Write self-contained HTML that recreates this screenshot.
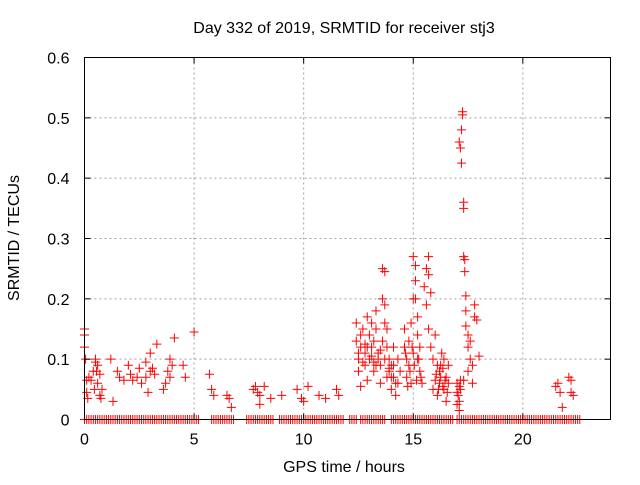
<!DOCTYPE html>
<html><head><meta charset="utf-8"><style>
body{margin:0;background:#fff;}
svg text{font-family:"Liberation Sans",sans-serif;font-size:16px;fill:#000;}
</style></head><body>
<svg width="640" height="480" xmlns="http://www.w3.org/2000/svg">
<rect width="640" height="480" fill="#fff"/>
<g id="grid"></g>
<g id="marks"></g>
<rect x="84.5" y="57.5" width="526" height="362" fill="none" stroke="#000" stroke-width="1"/>
<g id="ticks"></g>
<text x="344" y="33" text-anchor="middle">Day 332 of 2019, SRMTID for receiver stj3</text>
<text x="344" y="472" text-anchor="middle">GPS time / hours</text>
<text transform="translate(19,238) rotate(-90)" text-anchor="middle">SRMTID / TECUs</text>
</svg>
<script>
const xTicks=[0,5,10,15,20];
const yTicks=[0,0.1,0.2,0.3,0.4,0.5,0.6];
const yTickLabels=["0","0.1","0.2","0.3","0.4","0.5","0.6"];
const times=[0,0,0,0.05,0.1,0.1,0.15,0.2,0.3,0.4,0.45,0.5,0.5,0.55,0.6,0.6,0.7,0.7,0.75,0.8,
1.2,1.3,1.5,1.6,1.8,2.0,2.1,2.2,2.4,2.5,2.6,2.8,2.8,2.9,3.0,3.0,3.1,3.2,3.3,
3.6,3.7,3.8,3.9,3.9,4.0,4.1,4.5,4.6,5.0,
5.7,5.8,5.9,6.5,6.6,6.7,
7.7,7.8,7.9,8.0,8.0,8.2,8.5,9.0,9.7,9.9,10.0,10.2,10.7,11.0,11.5,11.6,
12.4,12.4,12.5,12.5,12.6,12.6,12.7,12.8,12.8,12.9,12.9,13.0,13.0,13.1,13.1,13.2,13.2,13.3,13.3,13.4,13.5,13.5,13.6,13.6,13.6,13.7,13.7,13.7,13.8,13.8,13.9,13.9,14.0,14.0,14.1,14.1,14.2,14.2,14.3,14.4,
12.5,12.7,12.9,13.1,13.3,13.5,13.7,13.9,14.1,14.3,13.2,13.4,13.8,14.0,12.6,12.8,
14.6,14.6,14.7,14.7,14.8,14.8,14.9,14.9,15.0,15.0,15.0,15.1,15.1,15.1,15.2,15.2,15.2,15.3,15.3,15.4,
14.65,14.85,15.05,15.25,14.75,15.15,15.35,14.95,
15.5,15.6,15.6,15.7,15.7,15.7,15.8,15.8,15.9,15.9,16.0,16.0,16.1,16.1,16.2,16.2,16.3,16.4,16.4,16.5,16.5,16.6,16.6,
16.05,16.15,16.25,16.35,16.45,16.55,16.25,16.35,
17.0,17.0,17.1,17.1,17.15,17.1,17.15,17.2,17.2,17.25,17.25,17.3,17.3,17.3,17.35,17.35,17.4,17.4,17.4,17.5,17.5,17.6,17.6,17.7,17.7,17.8,17.8,17.9,18.0,17.5,17.3,
17.05,17.15,17.0,17.1,
21.5,21.6,21.7,21.8,22.1,22.2,22.2,22.3];
const values=[0.15,0.14,0.12,0.1,0.065,0.045,0.035,0.07,0.065,0.08,0.05,0.1,0.095,0.08,0.09,0.06,0.075,0.04,0.035,0.05,
0.1,0.03,0.08,0.07,0.065,0.09,0.075,0.065,0.07,0.085,0.06,0.095,0.07,0.045,0.08,0.11,0.085,0.075,0.125,
0.05,0.06,0.08,0.1,0.07,0.09,0.135,0.09,0.07,0.145,
0.075,0.05,0.04,0.04,0.035,0.02,
0.05,0.055,0.045,0.04,0.025,0.055,0.035,0.04,0.05,0.035,0.03,0.055,0.04,0.035,0.05,0.04,
0.16,0.13,0.1,0.08,0.12,0.055,0.15,0.11,0.09,0.065,0.17,0.14,0.1,0.12,0.16,0.13,0.08,0.18,0.15,0.11,0.09,0.06,0.2,0.25,0.13,0.245,0.19,0.16,0.15,0.12,0.1,0.08,0.07,0.05,0.12,0.09,0.06,0.04,0.1,0.08,
0.11,0.095,0.12,0.105,0.09,0.115,0.1,0.085,0.07,0.06,0.095,0.1,0.07,0.09,0.14,0.125,
0.15,0.12,0.1,0.07,0.13,0.09,0.06,0.16,0.2,0.27,0.11,0.255,0.23,0.2,0.17,0.14,0.1,0.12,0.08,0.06,
0.11,0.08,0.09,0.1,0.055,0.065,0.07,0.12,
0.22,0.25,0.19,0.27,0.24,0.15,0.21,0.12,0.1,0.05,0.065,0.14,0.09,0.04,0.08,0.06,0.11,0.1,0.05,0.07,0.03,0.09,0.06,
0.075,0.05,0.07,0.085,0.065,0.045,0.09,0.055,
0.06,0.045,0.03,0.015,0.05,0.46,0.45,0.425,0.48,0.505,0.51,0.36,0.35,0.27,0.265,0.245,0.18,0.155,0.205,0.14,0.12,0.13,0.1,0.09,0.06,0.17,0.19,0.165,0.105,0.08,0.065,
0.04,0.065,0.025,0.055,
0.055,0.06,0.045,0.02,0.07,0.065,0.045,0.04];
const zeroTimes=[0,0.1,0.2,0.3,0.4,0.5,0.6,0.7,0.8,0.9,1.0,1.1,1.2,1.3,1.4,1.5,1.6,1.7,1.8,1.9,2.0,2.1,2.2,2.3,2.4,2.5,2.6,2.7,2.8,2.9,3.0,3.1,3.2,3.3,3.4,3.5,3.6,3.7,3.8,3.9,4.0,4.1,4.2,4.3,4.4,4.5,4.6,4.7,4.8,4.9,5.0,5.1,5.2,
5.8,5.9,6.0,6.1,6.2,6.3,6.4,6.5,6.6,6.7,6.8,7.4,7.5,7.6,7.7,7.8,7.9,8.0,8.1,8.2,8.3,8.4,8.5,8.6,8.9,9.0,9.1,9.2,9.3,9.4,9.5,9.6,9.7,9.8,9.9,10.0,10.1,10.2,10.3,10.4,10.5,10.6,10.7,10.8,10.9,11.0,11.1,11.2,11.3,11.4,11.5,11.6,11.7,11.8,
12.1,12.2,12.3,12.4,12.6,12.7,12.8,12.9,13.0,13.1,13.2,13.3,13.4,13.5,13.6,13.7,14.0,14.1,14.2,14.3,14.4,14.5,14.6,14.7,14.8,14.9,15.0,15.1,15.2,15.3,15.4,15.5,15.6,15.7,15.8,15.9,16.0,16.1,16.2,16.3,16.4,16.5,16.6,16.7,16.8,
17.0,17.1,17.2,17.3,17.4,17.5,17.6,17.7,17.8,17.9,18.0,18.1,18.2,18.3,18.4,18.5,18.6,18.7,18.8,18.9,19.0,19.1,19.2,19.3,19.4,19.5,19.6,19.7,19.8,19.9,20.0,20.1,20.2,20.3,20.4,20.5,20.6,20.7,20.8,20.9,21.0,21.1,21.2,21.3,21.4,21.5,21.6,21.7,21.8,21.9,22.0,22.1,22.2,22.3,22.4,22.5,22.6];
const X0=84.5,X1=610.5,Y0=419.5,Y1=57.5,XMAX=24,YMAX=0.6;
const sx=t=>X0+(X1-X0)*t/XMAX;
const sy=v=>Y0-(Y0-Y1)*v/YMAX;
const NS="http://www.w3.org/2000/svg";
function mk(tag,attrs,parent){const e=document.createElementNS(NS,tag);for(const k in attrs)e.setAttribute(k,attrs[k]);parent.appendChild(e);return e;}
const grid=document.getElementById('grid'),ticks=document.getElementById('ticks'),marks=document.getElementById('marks');
xTicks.forEach(t=>{const x=sx(t);
 if(t>0){const g=mk('line',{x1:x,x2:x,y1:Y1,y2:Y0,stroke:'#a0a0a0','stroke-dasharray':'2,3'},grid);
 
 }
 mk('line',{x1:x,x2:x,y1:Y0,y2:Y0-6,stroke:'#000'},ticks);
 mk('line',{x1:x,x2:x,y1:Y1,y2:Y1+6,stroke:'#000'},ticks);
 const l=mk('text',{x:x,y:Y0+25,'text-anchor':'middle'},ticks);l.textContent=String(t);
 
 
});
yTicks.forEach((v,i)=>{const y=sy(v);
 if(v>0&&v<YMAX){const g=mk('line',{x1:X0,x2:X1,y1:y,y2:y,stroke:'#a0a0a0','stroke-dasharray':'2,3'},grid);
 
 }
 mk('line',{x1:X0,x2:X0+6,y1:y,y2:y,stroke:'#000'},ticks);
 mk('line',{x1:X1,x2:X1-6,y1:y,y2:y,stroke:'#000'},ticks);
 const l=mk('text',{x:X0-15,y:y+6,'text-anchor':'end'},ticks);l.textContent=yTickLabels[i];
 
 
});
function cross(t,v){const x=sx(t),y=sy(v);
 const p=mk('path',{d:`M${x-4.5},${y}H${x+4.5}M${x},${y-4.5}V${y+4.5}`,stroke:'#f00','stroke-width':'1',fill:'none'},marks);
 
 }
zeroTimes.forEach(t=>cross(t,0));
times.forEach((t,i)=>cross(t,values[i]));
</script>
</body></html>
